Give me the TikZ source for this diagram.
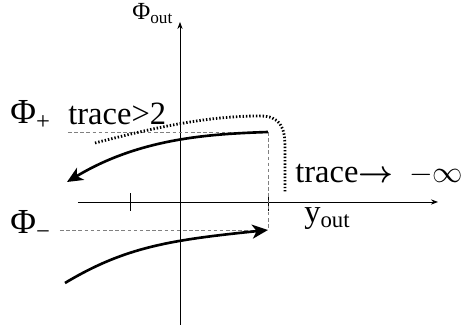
\documentclass[tikz,border=0pt]{standalone}
\usepackage{amsmath}
\usepackage{fontspec}
\setmainfont{Liberation Serif}
\usetikzlibrary{arrows.meta}

\begin{document}
\begin{tikzpicture}[x=0.02cm,y=0.02cm,
    axis/.style={line width=0.5pt,-{Stealth[length=4pt,width=3pt]}},
    flow/.style={line width=1.5pt,-{Stealth[length=9pt,width=8pt,inset=2.5pt]}},
    guide/.style={gray,line width=0.4pt,dash pattern=on 2pt off 1.5pt},
    dotflow/.style={line width=1.6pt,dash pattern=on 0.8pt off 1.1pt},
    lbl/.style={inner sep=0pt,anchor=base west,font=\fontsize{18.5}{22}\selectfont},
    smalllbl/.style={inner sep=0pt,anchor=base west,font=\fontsize{14}{16}\selectfont}]
    \useasboundingbox (-180,-131) rectangle (282,202);

    % Axes
    \coordinate (xmin) at (-102,0);
    \coordinate (xmax) at (258,0);
    \coordinate (ymin) at (0,-123);
    \coordinate (ymax) at (0,180);
    \draw[axis] (xmin) -- (xmax);
    \draw[axis] (ymin) -- (ymax);

    % Ticks
    \coordinate (tickL) at (-50,0);
    \coordinate (tickR) at (88,0);
    \draw[line width=0.5pt] ([yshift=-5]tickL) -- ([yshift=5]tickL);
    \draw[line width=0.5pt] ([yshift=-5]tickR) -- ([yshift=5]tickR);

    % Axis labels
    \node[smalllbl] (phiout) at (-48,182) {Φ\textsubscript{out}};
    \node[lbl] (yout) at (124,-21) {y\textsubscript{out}};

    % Fixed points
    \coordinate (plusL) at (-112,70);
    \coordinate (plusR) at (88,70);
    \coordinate (minusL) at (-120,-28);
    \coordinate (minusR) at (88,-28);
    \draw[guide] (plusL) -- (plusR);
    \draw[guide] (minusL) -- (minusR);
    \draw[guide] (plusR) -- (tickR) -- (minusR);
    \node[lbl,font=\fontsize{20}{22}\selectfont] (phiplus) at (-170,78) {Φ\textsubscript{+}};
    \node[lbl,font=\fontsize{20}{22}\selectfont] (phiminus) at (-170,-32) {Φ\textsubscript{−}};

    % Unstable branch (upper)
    \coordinate (upEnd) at (-113,20);
    \draw[flow] (plusR) .. controls (30,68) and (-40,64) .. (upEnd);

    % Stable branch (lower)
    \coordinate (lowStart) at (-115,-81);
    \draw[flow] (lowStart) .. controls (-55,-45) and (-10,-38) .. (minusR);

    % Dotted orbit for trace -> -infinity
    \coordinate (dotStart) at (-85,59);
    \coordinate (dotTop) at (80,86);
    \coordinate (dotEnd) at (105,10);
    \draw[dotflow] (dotStart) .. controls (-20,76) and (30,86) .. (dotTop)
        .. controls (100,86) and (105,75) .. (105,55) -- (dotEnd);

    % Trace labels
    \node[lbl] (traceA) at (-112,77) {trace>2};
    \node[lbl] (traceB) at (115,19) {trace$\boldsymbol{\rightarrow}$\hspace{9pt}$-\infty$};
\end{tikzpicture}
\end{document}
